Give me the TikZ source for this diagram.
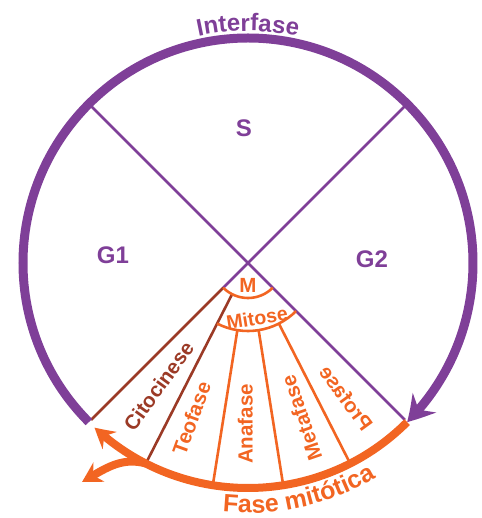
\documentclass[tikz,border=0pt]{standalone}
\usepackage{fontspec}
\setmainfont{Liberation Sans}
\usepackage{graphicx}
\usepackage{tikz}
\usetikzlibrary{arrows.meta, bending, decorations.text}

\definecolor{cyclepurple}{RGB}{127,63,152}
\definecolor{mitorange}{RGB}{242,101,34}
\definecolor{cytobrown}{RGB}{155,58,38}

\newcommand{\phasefont}{\fontsize{24}{28}\selectfont\bfseries}
\newcommand{\stagefont}{\fontsize{20.5}{24}\selectfont\bfseries}
\newcommand{\mitfont}{\fontsize{25}{30}\selectfont\bfseries}

\begin{document}
\begin{tikzpicture}[
  x=1pt, y=1pt,
  phase/.style={font=\phasefont, text=cyclepurple, inner sep=0pt},
  stage/.style={font=\stagefont, text=mitorange, inner sep=0pt},
  cyclearc/.style={draw=cyclepurple, line width=9pt},
  mitarc/.style={draw=mitorange, line width=8pt},
  divider/.style={line width=2.6pt},
  purplehead/.style={-{Stealth[length=26pt, width=30pt, inset=9pt, bend]}},
  orangehead/.style={-{Stealth[length=20pt, width=22pt, inset=7pt, bend]}},
]
\path[use as bounding box] (-248,-255) rectangle (233,263);
\coordinate (O)      at (0,0);
\coordinate (Gstart) at (225:225);
\coordinate (Gend)   at (-45:225);
\coordinate (Split)  at (-117:225);
\coordinate (Branch) at (-166,-219);

\draw[divider, cyclepurple] (45:221) -- (O) -- (225:35);
\draw[divider, cyclepurple] (135:221) -- (-45:222);
\draw[divider, cytobrown] (225:35) -- (225:222);
\draw[divider, cytobrown] (-117:35) -- (-117:222);
\foreach \a in {-99,-81,-63}
  \draw[divider, mitorange] (\a:68) -- (\a:222);
\draw[divider, mitorange] (-135:35) arc[start angle=-135, end angle=-45, radius=35];
\draw[divider, mitorange] (-117:68) arc[start angle=-117, end angle=-45, radius=68];

\draw[cyclearc, purplehead] (Gstart) arc[start angle=225, end angle=-45, radius=225];
\draw[mitarc, orangehead] (Gend) arc[start angle=-45, end angle=-133, radius=225];
\draw[mitarc, orangehead] (Split) to[out=165, in=30] (Branch);

\node[phase] (s)  at (-4,135) {S};
\node[phase] (g1) at (-135,8) {G1};
\node[phase] (g2) at (124,4)  {G2};

\node[stage] (m) at (0,-22) {M};
\node[stage, font=\fontsize{19.5}{23}\selectfont\bfseries, rotate=9] (mitose) at (9,-55) {Mitose};
\node[stage, text=cytobrown, rotate=54] (cito) at (-126:152) {Citocinese};
\node[stage, rotate=70]  (teo)  at (-110:165) {Teofase};
\node[stage, rotate=90]  (ana)  at (-91:161)  {Anafase};
\node[stage, rotate=109] (meta) at (-71:164)  {Metafase};
\node[stage, rotate=-54] (pro)  at (-54:167)  {\reflectbox{Profase}};

\path[decorate, decoration={text along path, text align=center,
  text color=cyclepurple, text={|\phasefont|Interfase}}]
  (110:232) arc[start angle=110, end angle=70, radius=232];
\path[decorate, decoration={text along path, text align=center,
  text color=mitorange, text={|\mitfont|Fase mitótica}}]
  (-105:250) arc[start angle=-105, end angle=-50, radius=250];
\end{tikzpicture}
\end{document}
